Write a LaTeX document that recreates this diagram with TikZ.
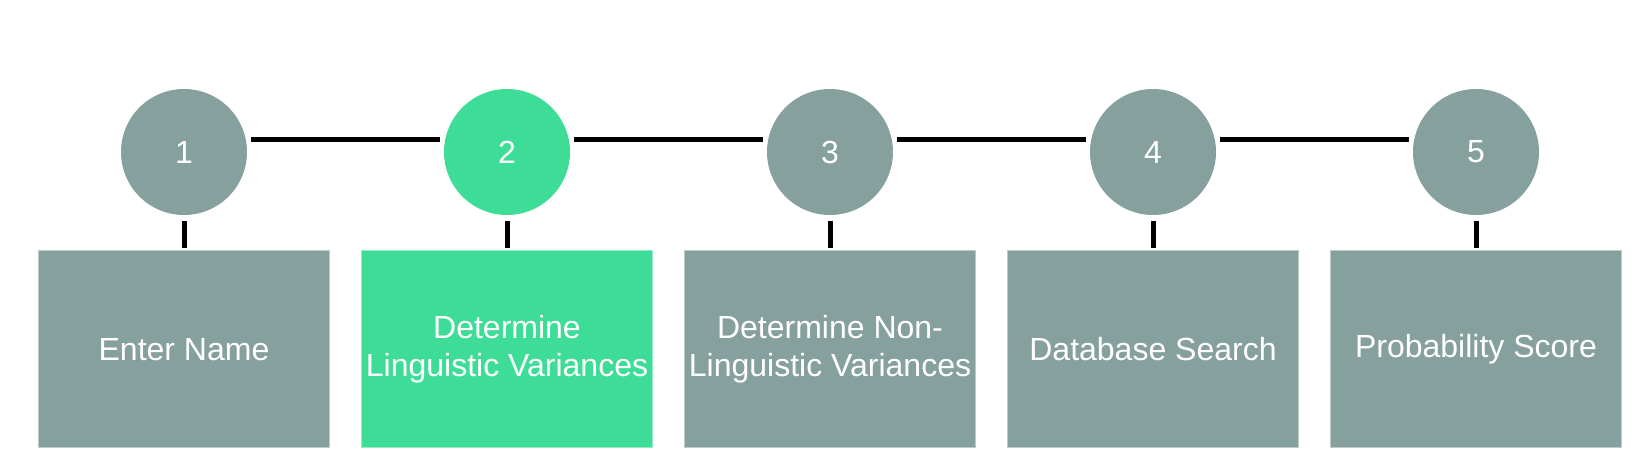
\documentclass[tikz,border=0pt]{standalone}
\usepackage{fontspec}
\setmainfont{Liberation Sans}
\usepackage{xcolor}

\definecolor{stepgray}{HTML}{86A19D}
\definecolor{stepgreen}{HTML}{3DDD97}

\begin{document}
\begin{tikzpicture}[x=0.5pt, y=0.5pt,
    every node/.style={text=white, font=\fontsize{16}{19}\selectfont, inner sep=0pt},
    numdot/.style={circle, fill=stepgray, minimum size=63pt},
    stepbox/.style={rectangle, fill=stepgray, draw=stepgray!55!white, line width=0.5pt,
                    minimum width=145.5pt, minimum height=98.5pt, align=center},
    link/.style={black, line width=2.5pt}]
  \useasboundingbox (0,0) rectangle (1646,461);

  \node[numdot] (N1) at (184,309)  {1};
  \node[numdot, fill=stepgreen] (N2) at (507,309)  {2};
  \node[numdot] (N3) at (830,309)  {3};
  \node[numdot] (N4) at (1153,309) {4};
  \node[numdot] (N5) at (1476,309) {5};

  \node[stepbox] (S1) at (184,111.5)  {Enter Name};
  \node[stepbox, fill=stepgreen, draw=stepgreen!55!white] (S2) at (507,111.5)  {Determine\\Linguistic Variances};
  \node[stepbox] (S3) at (830,111.5)  {Determine Non-\\Linguistic Variances};
  \node[stepbox] (S4) at (1153,111.5) {Database Search};
  \node[stepbox] (S5) at (1476,111.5) {Probability Score};

  % timeline, a little above the centres
  \draw[link, shorten <=2.5pt, shorten >=2.3pt] (N1.11) -- (N2.169);
  \draw[link, shorten <=2.5pt, shorten >=2.3pt] (N2.11) -- (N3.169);
  \draw[link, shorten <=2.5pt, shorten >=2.3pt] (N3.11) -- (N4.169);
  \draw[link, shorten <=2.5pt, shorten >=2.3pt] (N4.11) -- (N5.169);

  % short ticks down to the boxes
  \draw[link, shorten <=3pt, shorten >=1pt] (N1) -- (S1);
  \draw[link, shorten <=3pt, shorten >=1pt] (N2) -- (S2);
  \draw[link, shorten <=3pt, shorten >=1pt] (N3) -- (S3);
  \draw[link, shorten <=3pt, shorten >=1pt] (N4) -- (S4);
  \draw[link, shorten <=3pt, shorten >=1pt] (N5) -- (S5);
\end{tikzpicture}
\end{document}
